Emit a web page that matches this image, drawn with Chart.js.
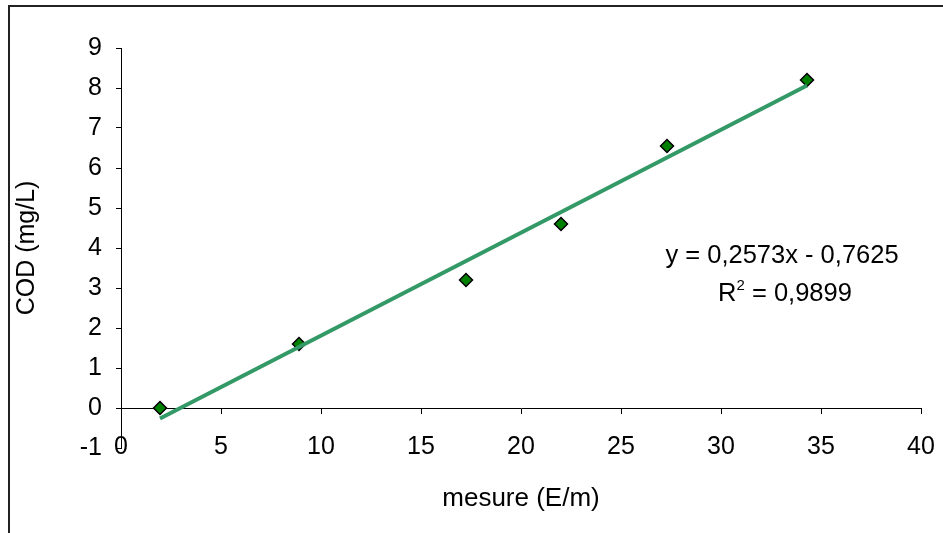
<!DOCTYPE html>
<html>
<head>
<meta charset="utf-8">
<script src="https://cdn.jsdelivr.net/npm/chart.js@4.4.1/dist/chart.umd.min.js"></script>
<style>
  html, body { margin: 0; padding: 0; background: #fff; }
  #wrap { width: 943px; height: 533px; }
</style>
</head>
<body>
<div id="wrap"><canvas></canvas></div>
<script>
      //Data
      let mesure = [1.95, 8.9, 17.25, 22, 27.3, 34.3];
      let cod = [0, 1.6, 3.2, 4.6, 6.55, 8.2];
      let slope = 0.2573;
      let intercept = -0.7625;
      let equationLines = ["y = 0,2573x - 0,7625", "R", "2", " = 0,9899"];

      let canvas = window.document.querySelector("canvas");
      let context = canvas.getContext("2d");
      let fontName = "'Liberation Sans', Arial, sans-serif";

      //Trendline from first to last point
      let xMin = Math.min(...mesure);
      let xMax = Math.max(...mesure);
      let trend = [
        { x: xMin, y: slope * xMin + intercept },
        { x: xMax, y: slope * xMax + intercept },
      ];

      //Frame and equation
      const framePlugin = {
        id: "frame",
        beforeDraw: (chart) => {
          let ctx = chart.ctx;
          ctx.save();
          ctx.strokeStyle = "#222";
          ctx.lineWidth = 2;
          ctx.beginPath();
          ctx.moveTo(9, 533);
          ctx.lineTo(9, 6);
          ctx.lineTo(943, 6);
          ctx.stroke();
          ctx.restore();
        },
        afterDraw: (chart) => {
          let ctx = chart.ctx;
          ctx.save();
          ctx.fillStyle = "#000";
          ctx.font = "25.5px " + fontName;
          ctx.textBaseline = "alphabetic";
          ctx.textAlign = "center";
          ctx.fillText(equationLines[0], 782, 263);
          //second line with superscript
          ctx.textAlign = "left";
          let w1 = ctx.measureText(equationLines[1]).width;
          let w3 = ctx.measureText(equationLines[3]).width;
          ctx.font = "15px " + fontName;
          let w2 = ctx.measureText(equationLines[2]).width;
          let start = 785 - (w1 + w2 + w3) / 2;
          ctx.font = "25.5px " + fontName;
          ctx.fillText(equationLines[1], start, 301);
          ctx.font = "15px " + fontName;
          ctx.fillText(equationLines[2], start + w1, 290);
          ctx.font = "25.5px " + fontName;
          ctx.fillText(equationLines[3], start + w1 + w2, 301);
          ctx.restore();
        },
      };

      let data = {
        datasets: [
          {
            label: "trend",
            data: trend,
            showLine: true,
            borderColor: "#339966",
            borderWidth: 4,
            pointRadius: 0,
            order: 0,
          },
          {
            label: "COD",
            data: mesure.map((x, i) => ({ x: x, y: cod[i] })),
            pointStyle: "rectRot",
            pointRadius: 6.5,
            pointBackgroundColor: "#008000",
            pointBorderColor: "#000",
            pointBorderWidth: 1.5,
            showLine: false,
            order: 1,
          },
        ],
      };

      let xScaleConfig = {
        type: "linear",
        position: { y: 0 },
        min: 0,
        max: 40,
        ticks: {
          stepSize: 5,
          color: "#000",
          font: { family: fontName, size: 25 },
          padding: 19,
          maxRotation: 0,
        },
        grid: { drawOnChartArea: false, tickLength: 5, color: "#000" },
        border: { color: "#000", width: 1 },
        title: {
          display: true,
          text: "mesure (E/m)",
          color: "#000",
          font: { family: fontName, size: 26 },
          padding: { top: 2, bottom: 0 },
        },
        afterFit: (scale) => {
          scale.paddingLeft = 0;
          scale.paddingRight = 0;
        },
      };

      let yScaleConfig = {
        type: "linear",
        min: -1,
        max: 9,
        ticks: {
          stepSize: 1,
          color: "#000",
          font: { family: fontName, size: 25 },
          padding: 14,
        },
        grid: { drawOnChartArea: false, tickLength: 5, color: "#000" },
        border: { color: "#000", width: 1 },
        title: {
          display: true,
          text: "COD (mg/L)",
          color: "#000",
          font: { family: fontName, size: 25 },
          padding: { top: 12, bottom: 0 },
        },
        afterFit: (scale) => {
          scale.width = 121;
        },
      };

      let config = {
        type: "scatter",
        data: data,
        options: {
          responsive: true,
          maintainAspectRatio: false,
          animation: false,
          layout: { padding: { top: 48, right: 22, bottom: 85, left: 0 } },
          plugins: {
            legend: { display: false },
            tooltip: { enabled: false },
          },
          scales: {
            x: xScaleConfig,
            y: yScaleConfig,
          },
        },
        plugins: [framePlugin],
      };
      let chart = new Chart(context, config);
</script>
</body>
</html>
